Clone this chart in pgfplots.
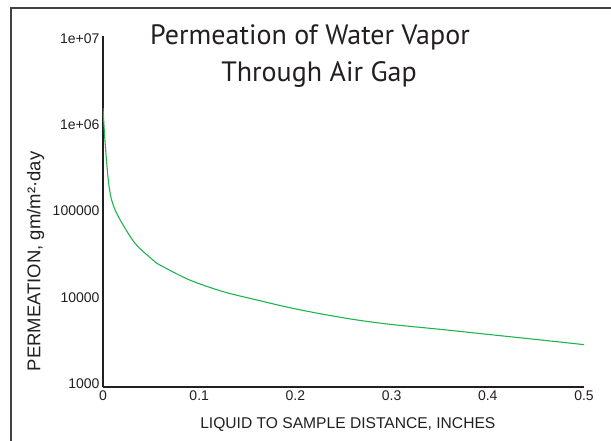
\documentclass[border=0pt]{standalone}
\usepackage{pgfplots}
\pgfplotsset{compat=1.18}
\usepackage{fontspec}
\setmainfont{Liberation Sans}
\newfontfamily\titlefont{PT Sans}
\definecolor{txt}{RGB}{35,31,32}
\definecolor{curve}{RGB}{30,180,80}
\begin{document}
\begin{tikzpicture}[x=1pt,y=1pt]
\path[use as bounding box] (0,0) rectangle (611,440);
\draw[line width=1.3pt, color=txt!85] (611,432) -- (11,432) -- (11,-2);
\begin{axis}[
  at={(103pt,53pt)}, anchor=south west, scale only axis,
  width=481pt, height=351pt,
  xmin=0, xmax=0.5, ymode=log, ymin=910, ymax=1.07e7,
  axis x line*=bottom, axis y line*=left,
  axis line style={line width=1.2pt, color=txt, -},
  tick style={draw=none},
  ytick={1000,10000,100000,1000000,10000000},
  yticklabels={1000,10000,100000,1e+06,1e+07},
  xtick={0,0.1,0.2,0.3,0.4,0.5},
  xticklabels={0,0.1,0.2,0.3,0.4,0.5},
  tick label style={font=\fontsize{14}{16}\selectfont, text=txt},
  xlabel={LIQUID TO SAMPLE DISTANCE, INCHES},
  ylabel={PERMEATION, gm/m²·day},
  xlabel style={font=\fontsize{15.6}{17}\selectfont, text=txt, at={(rel axis cs:0.509,0)}, yshift=-37.5pt, anchor=center},
  ylabel style={font=\fontsize{18.5}{20}\selectfont, text=txt, at={(rel axis cs:-0.1403,0.3575)}, anchor=center},
]
\addplot[color=curve, line width=1.1pt, smooth] coordinates {
(0,1560000) (0.002,665000) (0.0055,229000) (0.009,134000) (0.016,85900)
(0.033,42600) (0.052,27000) (0.059,23700) (0.090,15850)
(0.125,11600) (0.160,9290) (0.194,7570) (0.229,6340) (0.264,5450)
(0.300,4830) (0.350,4250) (0.400,3710) (0.450,3240) (0.5,2820)
};
\end{axis}
\node[anchor=base, font=\titlefont\fontsize{28}{30}\selectfont, text=txt] at (310,395) {Permeation of Water Vapor};
\node[anchor=base, font=\titlefont\fontsize{28}{30}\selectfont, text=txt] at (319,358) {Through Air Gap};
\end{tikzpicture}
\end{document}
